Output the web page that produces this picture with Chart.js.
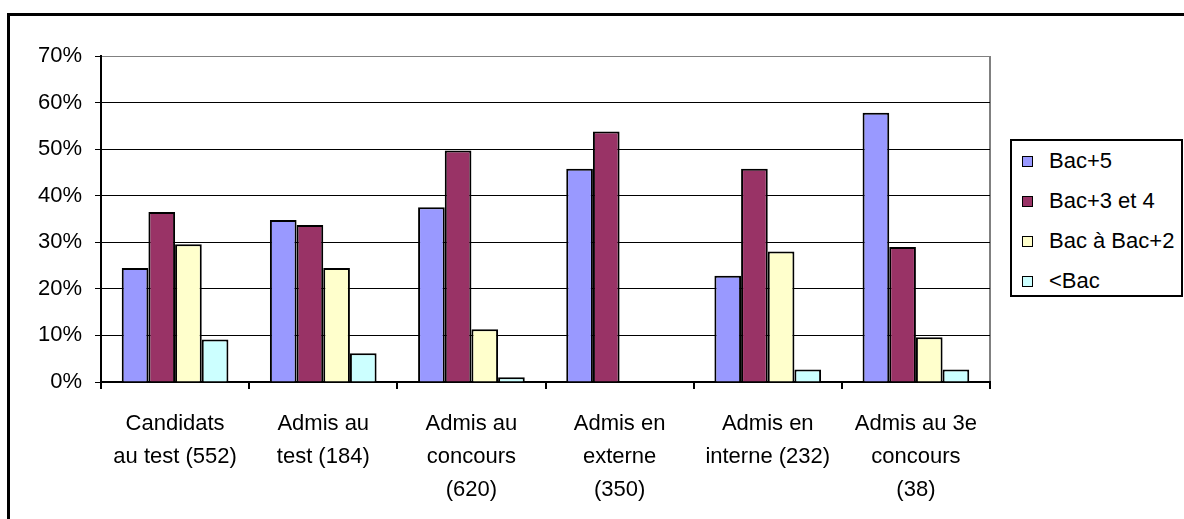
<!DOCTYPE html>
<html>
<head>
<meta charset="utf-8">
<script src="https://cdn.jsdelivr.net/npm/chart.js@4.4.1/dist/chart.umd.min.js"></script>
<style>
  html, body { margin: 0; padding: 0; background: #fff; }
  body { width: 1184px; height: 519px; position: relative; overflow: hidden; font-family: 'Liberation Sans', Arial, sans-serif; }
  #frame { position: absolute; left: 7px; top: 13px; width: 1300px; height: 600px; border-left: 3px solid #000; border-top: 3px solid #000; }
  #wrap { position: absolute; left: 0; top: 0; width: 1184px; height: 519px; }
  #legend { position: absolute; left: 1010px; top: 139px; width: 169px; height: 154px; border: 2px solid #000; background: #fff; }
  .row { height: 40px; display: flex; align-items: center; font-size: 22px; color: #000; white-space: nowrap; }
  .sw { width: 9px; height: 9px; border: 1px solid #000; margin-left: 10px; margin-right: 16px; flex: none; }
</style>
</head>
<body>
<div id="frame"></div>
<div id="wrap"><canvas id="chart" width="1184" height="519"></canvas></div>
<div id="legend"></div>
<script>
// categories (x axis labels, split on lines like the original)
const categories = [
  ['Candidats', 'au test (552)'],
  ['Admis au', 'test (184)'],
  ['Admis au', 'concours', '(620)'],
  ['Admis en', 'externe', '(350)'],
  ['Admis en', 'interne (232)'],
  ['Admis au 3e', 'concours', '(38)']
];

// series values in %
const bac5      = [24.5, 34.8, 37.5, 45.8, 22.8, 57.8];
const bac34     = [36.5, 33.7, 49.7, 53.8, 45.8, 29.0];
const bacBac2   = [29.6, 24.5, 11.3, 0, 28.0, 9.6];
const infBac    = [9.1, 6.2, 1.0, 0, 2.7, 2.7];

const seriesNames = ['Bac+5', 'Bac+3 et 4', 'Bac à Bac+2', '<Bac'];
const seriesColors = ['#9999FF', '#993366', '#FFFFCC', '#CCFFFF'];

const yTicks = [0, 10, 20, 30, 40, 50, 60, 70];

const FONT = "'Liberation Sans', Arial, sans-serif";

const datasets = [bac5, bac34, bacBac2, infBac].map((vals, i) => ({
  label: seriesNames[i],
  data: vals,
  backgroundColor: seriesColors[i],
  borderColor: '#000',
  borderWidth: 2,
  borderSkipped: 'bottom',
  categoryPercentage: 0.72,
  barPercentage: 1
}));

new Chart(document.getElementById('chart'), {
  type: 'bar',
  data: { labels: categories, datasets },
  options: {
    responsive: false,
    animation: false,
    layout: { padding: { left: 0, top: 56, right: 194, bottom: 0 } },
    plugins: { legend: { display: false }, tooltip: { enabled: false } },
    scales: {
      x: {
        afterFit: s => { s.height = 137; },
        border: { display: true, color: '#000', width: 2 },
        grid: {
          offset: true,
          drawOnChartArea: true,
          drawTicks: true,
          tickLength: 7,
          tickColor: '#000',
          lineWidth: 2,
          color: ctx => ctx.type === 'tick' ? 'rgba(0,0,0,0)' : '#808080'
        },
        ticks: {
          color: '#000',
          padding: 18,
          maxRotation: 0,
          autoSkip: false,
          font: { family: FONT, size: 22, lineHeight: 1.5 }
        }
      },
      y: {
        min: 0,
        max: 70,
        afterFit: s => { s.width = 101; },
        afterBuildTicks: s => { s.ticks = yTicks.map(v => ({ value: v })); },
        border: { display: true, color: '#000', width: 2 },
        grid: {
          drawTicks: true,
          tickLength: 6,
          tickColor: '#000',
          lineWidth: 1,
          color: ctx => ctx.tick && ctx.tick.value === 70 ? '#808080' : '#000'
        },
        ticks: {
          color: '#000',
          padding: 13,
          font: { family: FONT, size: 22 },
          callback: v => v + '%'
        }
      }
    }
  }
});

// legend built from the same series arrays
const legendEl = document.getElementById('legend');
seriesNames.forEach((name, i) => {
  const row = document.createElement('div');
  row.className = 'row';
  const sw = document.createElement('span');
  sw.className = 'sw';
  sw.style.background = seriesColors[i];
  const txt = document.createElement('span');
  txt.textContent = name;
  row.appendChild(sw);
  row.appendChild(txt);
  legendEl.appendChild(row);
});
</script>
</body>
</html>
